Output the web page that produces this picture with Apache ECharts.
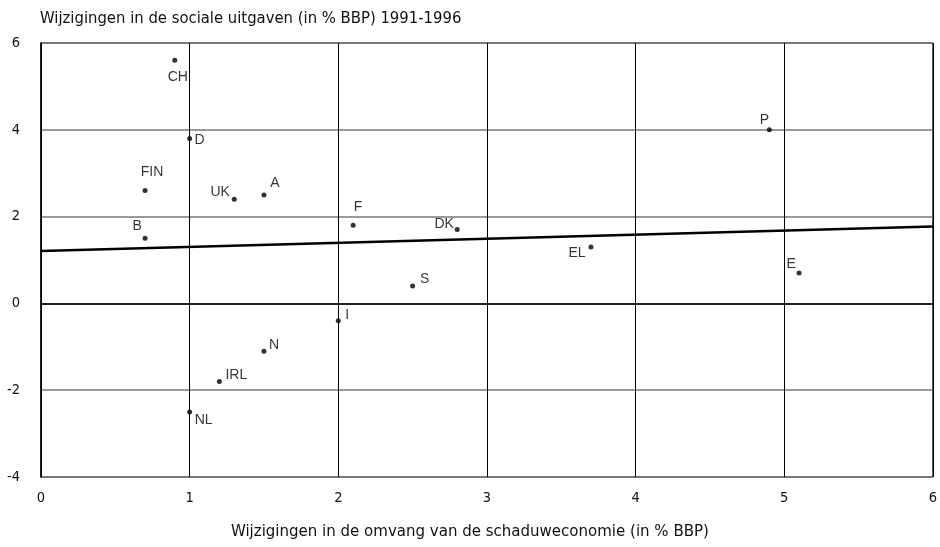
<!DOCTYPE html>
<html>
<head>
<meta charset="utf-8">
<script src="https://cdn.jsdelivr.net/npm/echarts@6/dist/echarts.min.js"></script>
<style>html,body{margin:0;padding:0;background:#fff}#c{width:940px;height:547px}</style>
</head>
<body>
<div id="c"></div>
<script>
var countries = ['CH','D','FIN','UK','A','B','F','DK','EL','E','P','S','I','N','IRL','NL'];
var xValues  = [0.9, 1.0, 0.7, 1.3, 1.5, 0.7, 2.1, 2.8, 3.7, 5.1, 4.9, 2.5, 2.0, 1.5, 1.2, 1.0];
var yValues  = [5.6, 3.8, 2.6, 2.4, 2.5, 1.5, 1.8, 1.7, 1.3, 0.7, 4.0, 0.4, -0.4, -1.1, -1.8, -2.5];
var fitX = [0, 6];
var fitY = [1.21, 1.77];
var xTicks = [0, 1, 2, 3, 4, 5, 6];
var yTicks = [-4, -2, 0, 2, 4, 6];
var yTitle = 'Wijzigingen in de sociale uitgaven (in % BBP) 1991-1996';
var xTitle = 'Wijzigingen in de omvang van de schaduweconomie (in % BBP)';

// label offsets (style only)
var labelOffsets = {
  CH:[3,17], D:[10,2], FIN:[7,-18], UK:[-14,-7], A:[11,-12], B:[-8,-12],
  F:[5,-18], DK:[-13,-5], EL:[-14,6], E:[-8,-9], P:[-5,-10], S:[12,-7],
  I:[9,-6], N:[10,-6], IRL:[17,-6], NL:[14,8]
};

var tickFont = "'DejaVu Sans Condensed', 'Liberation Sans', sans-serif";
var points = countries.map(function(c, i){
  return {
    value: [xValues[i], yValues[i]],
    name: c,
    label: {show:true, position:'inside', offset: labelOffsets[c], formatter: c,
            color:'#000', fontFamily:'Liberation Sans', fontSize:14}
  };
});
var fit = fitX.map(function(x, i){ return [x, fitY[i]]; });

var chart = echarts.init(document.getElementById('c'), null, {renderer:'canvas'});
chart.setOption({
  animation:false,
  backgroundColor:'#fff',
  title:{text:yTitle, left:40, top:10, padding:0, textStyle:{fontFamily:tickFont, fontWeight:'normal', fontSize:16.5, color:'#111'}},
  grid:{left:41, right:6, top:43, bottom:70, show:true, borderColor:'#000', borderWidth:1},
  xAxis:{type:'value', min:xTicks[0], max:xTicks[xTicks.length-1], interval:1,
    name:xTitle, nameLocation:'middle', nameGap:46,
    nameTextStyle:{fontFamily:tickFont, fontSize:16.7, color:'#111', padding:[0,34,0,0]},
    axisLine:{show:true, lineStyle:{color:'#000', width:1.5}},
    axisTick:{show:false},
    axisLabel:{margin:14, fontFamily:tickFont, fontSize:14.5, color:'#111'},
    splitLine:{show:true, lineStyle:{color:'#000', width:1}}},
  yAxis:{type:'value', min:yTicks[0], max:yTicks[yTicks.length-1], interval:2,
    axisLine:{show:true, lineStyle:{color:'#000', width:1.5}},
    axisTick:{show:false},
    axisLabel:{margin:21, fontFamily:tickFont, fontSize:14.5, color:'#111', padding:[6,0,0,0]},
    splitLine:{show:true, lineStyle:{color:'#777', width:1.5}}},
  series:[
    {type:'scatter', data:points, symbol:'circle', symbolSize:5,
     itemStyle:{color:'#000'}, z:5},
    {type:'line', data:fit, symbol:'none', lineStyle:{color:'#000', width:2.5}, z:4,
     markLine:{silent:true, symbol:'none', label:{show:false},
       lineStyle:{color:'#222', width:2, type:'solid'}, data:[{yAxis:0}]}}
  ]
});
</script>
</body>
</html>
